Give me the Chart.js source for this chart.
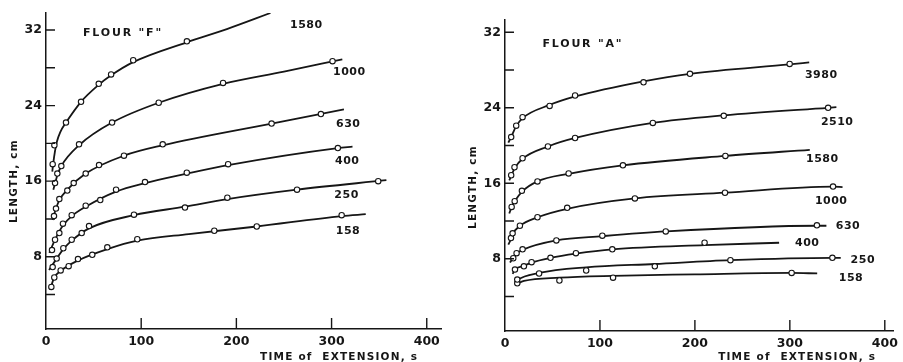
<!DOCTYPE html>
<html>
<head>
<meta charset="utf-8">
<title>Flour F / Flour A</title>
<script src="https://cdn.jsdelivr.net/npm/chart.js@4.4.1/dist/chart.umd.min.js"></script>
<style>
  html, body { margin: 0; padding: 0; background: #fff; }
  #wrap { position: relative; width: 903px; height: 362px; }
  canvas { position: absolute; top: 0; }
  #chartF { left: 0; }
  #chartA { left: 455px; }
</style>
</head>
<body>
<div id="wrap">
  <canvas id="chartF" width="455" height="362"></canvas>
  <canvas id="chartA" width="448" height="362"></canvas>
</div>
<script>
// axis ticks (both panels)
const xTicks = [0, 100, 200, 300, 400];
const yTicks = [4, 8, 12, 16, 20, 24, 28, 32];

// FLOUR "F" -- [time s, length cm]
const fLabels = ['1580', '1000', '630', '400', '250', '158'];
const fPoints = [
  [[7.0,17.8],[8.8,19.8],[21,22.2],[36.8,24.4],[55.4,26.3],[68.4,27.3],[91.6,28.8],[148,30.8]],
  [[9.5,15.8],[11.9,16.8],[16.1,17.6],[34.7,19.9],[69.4,22.2],[118.4,24.3],[186,26.4],[301,28.7]],
  [[8.4,12.3],[10.5,13.1],[14,14.1],[22.4,15.0],[29.1,15.8],[41.7,16.8],[55.7,17.7],[81.9,18.7],[122.6,19.9],[237,22.1],[288.8,23.1]],
  [[6.3,8.7],[9.5,9.8],[14,10.5],[17.8,11.5],[27,12.4],[41.7,13.4],[57,14.0],[73.6,15.1],[104,15.9],[147.9,16.9],[191.3,17.8],[306.6,19.5]],
  [[7,6.9],[11.2,7.8],[18.2,8.9],[27,9.8],[37.5,10.5],[45.2,11.25],[92.4,12.45],[146,13.2],[190.5,14.25],[263.7,15.1],[349,16.0]],
  [[5.6,4.8],[8.7,5.8],[15.4,6.55],[23.8,7.0],[33.6,7.75],[48.6,8.2],[64.4,9.0],[95.9,9.85],[176.8,10.75],[221.4,11.2],[310.6,12.4]]
];
const fCurves = [
  [[6.6,17.0],[7.5,17.8],[9.5,19.2],[11.5,20.2],[15,21.2],[21,22.2],[36.8,24.4],[55.4,26.2],[68.4,27.2],[91.6,28.6],[148,30.7],[190,32.1],[235.8,33.8]],
  [[7.7,15.1],[11.9,16.6],[16.1,17.6],[34.7,19.8],[69.4,22.2],[118.4,24.3],[186,26.3],[250,27.6],[311.3,28.9]],
  [[7,11.9],[10.5,13.1],[14,14.0],[22.4,15.1],[41.7,16.8],[81.9,18.7],[122.6,19.8],[237,22.1],[313,23.6]],
  [[3.5,8.4],[9.5,9.8],[17.8,11.3],[27,12.3],[41.7,13.3],[73.6,14.9],[104,15.8],[147.9,16.8],[191.3,17.7],[306.6,19.5],[322,19.65]],
  [[3.2,6.6],[11.2,7.8],[18.2,8.8],[27,9.7],[45.2,11.0],[92.4,12.4],[146,13.3],[190.5,14.1],[263.7,15.1],[357.6,16.1]],
  [[4.2,4.5],[8.7,5.8],[15.4,6.5],[33.6,7.6],[64.4,8.8],[95.9,9.7],[150,10.4],[221.4,11.2],[310.6,12.3],[335.9,12.5]]
];
const fLabelAt = [[256.4,32.5],[301.5,27.5],[304.7,22.05],[303.6,18.1],[302.9,14.57],[304.4,10.7]];

// FLOUR "A" -- [time s, length cm]
const aLabels = ['3980', '2510', '1580', '1000', '630', '400', '250', '158'];
const aPoints = [
  [[6.5,20.9],[11.8,22.1],[18.5,23.0],[47,24.2],[73.8,25.3],[145.9,26.7],[194.8,27.6],[299.8,28.65]],
  [[6.5,16.85],[10,17.7],[18.5,18.65],[45.2,19.9],[73.8,20.8],[155.7,22.4],[230.4,23.15],[340.3,24.0]],
  [[7,13.5],[10.2,14.1],[17.8,15.2],[34.2,16.2],[67,17.05],[124.2,17.9],[232.1,18.9]],
  [[6.3,10.2],[8,10.7],[15.7,11.5],[34.2,12.4],[65.5,13.4],[136.8,14.4],[231.7,15.0],[345.5,15.65]],
  [[8.7,8.06],[12.2,8.6],[18.5,9.0],[54.1,9.95],[102.5,10.45],[169.3,10.9],[328.5,11.55]],
  [[10.5,6.86],[19.9,7.2],[28,7.64],[47.9,8.1],[74.7,8.6],[113,9.0],[210.2,9.7]],
  [[12.9,5.8],[35.9,6.44],[85.5,6.76],[157.8,7.2],[237.4,7.85],[344.8,8.1]],
  [[12.9,5.4],[57.3,5.7],[113.8,6.0],[301.9,6.5]]
];
const aCurves = [
  [[3.5,20.3],[7,21.0],[11.5,22.0],[18.5,22.9],[47.1,24.3],[74,25.2],[145.9,26.8],[194.8,27.6],[299.8,28.6],[320.4,28.8]],
  [[4.5,16.3],[7,16.9],[10.2,17.6],[18.5,18.6],[45.3,19.9],[74,20.8],[155.7,22.4],[230.4,23.2],[340.3,24.0],[349,24.06]],
  [[4.5,12.8],[7,13.5],[10.2,14.1],[17.8,15.1],[34.2,16.2],[67,17.0],[124,17.9],[232.1,18.9],[321,19.55]],
  [[3.5,9.5],[6.3,10.1],[8,10.6],[15.7,11.5],[34.2,12.4],[65.4,13.3],[136.8,14.4],[231.7,15.0],[345.5,15.65],[355.5,15.6]],
  [[5.2,7.6],[8.7,8.1],[12.2,8.55],[18.5,8.95],[54.1,9.95],[102.6,10.4],[169.3,10.9],[328.8,11.5],[338.5,11.5]],
  [[8,6.4],[10.5,6.85],[19.9,7.25],[28,7.6],[47.9,8.1],[74.7,8.55],[113,9.0],[210.2,9.45],[288.7,9.7]],
  [[10.5,5.5],[12.9,5.75],[35.9,6.5],[85.5,7.1],[157.8,7.45],[237.4,7.85],[344.8,8.1],[353.6,8.1]],
  [[11.5,5.3],[20,5.65],[57.3,6.0],[113.8,6.2],[200,6.35],[301.9,6.5],[328.8,6.45]]
];
const aLabelAt = [[315.9,27.47],[332.7,22.47],[317,18.6],[326.4,14.1],[348.4,11.5],[305.4,9.67],[364,7.87],[351.5,6.0]];

const ink = '#161616';
const FONT = '"DejaVu Sans", "Liberation Sans", sans-serif';
const xy = arr => arr.map(([x, y]) => ({ x, y }));

// inward tick marks + lettering drawn on top of the plot
const decor = {
  id: 'decor',
  afterDraw(chart, args, o) {
    const { ctx, chartArea: a, scales: { x, y } } = chart;
    ctx.save();
    ctx.strokeStyle = ink;
    ctx.lineWidth = 1.4;
    ctx.beginPath();
    xTicks.slice(1).forEach(v => {
      const px = x.getPixelForValue(v);
      ctx.moveTo(px, a.bottom); ctx.lineTo(px, a.bottom - 11);
    });
    yTicks.forEach(v => {
      const py = y.getPixelForValue(v);
      ctx.moveTo(a.left, py); ctx.lineTo(a.left + 9, py);
    });
    ctx.stroke();

    ctx.fillStyle = ink;
    ctx.textBaseline = 'middle';
    ctx.textAlign = 'left';
    ctx.font = 'bold 11px ' + FONT;
    ctx.letterSpacing = '0.5px';
    o.labels.forEach((t, i) => {
      ctx.fillText(t, x.getPixelForValue(o.labelAt[i][0]), y.getPixelForValue(o.labelAt[i][1]));
    });
    ctx.letterSpacing = '1.8px';
    ctx.fillText(o.title, x.getPixelForValue(o.titleAt[0]), y.getPixelForValue(o.titleAt[1]));

    ctx.font = 'bold 10.5px ' + FONT;
    ctx.letterSpacing = '1.2px';
    ctx.textAlign = 'right';
    ctx.fillText('TIME of  EXTENSION, s', x.getPixelForValue(391), chart.height - 5);

    ctx.translate(o.yTitleX, y.getPixelForValue(o.yTitleMid));
    ctx.rotate(-Math.PI / 2);
    ctx.textAlign = 'center';
    ctx.fillText('LENGTH, cm', 0, 0);
    ctx.restore();
  }
};

function buildChart(id, p) {
  const datasets = [];
  p.curves.forEach(c => datasets.push({
    data: xy(c), borderColor: ink, borderWidth: 1.8, pointRadius: 0,
    cubicInterpolationMode: 'monotone', fill: false, order: 2
  }));
  p.points.forEach(c => datasets.push({
    data: xy(c), showLine: false, pointRadius: 2.7, pointBorderWidth: 1.1,
    pointBackgroundColor: '#fff', pointBorderColor: ink, order: 1
  }));

  return new Chart(document.getElementById(id), {
    type: 'line',
    data: { datasets },
    plugins: [decor],
    options: {
      responsive: false,
      animation: false,
      events: [],
      layout: { padding: { top: p.padTop, right: p.padRight, left: 0, bottom: 0 } },
      plugins: {
        legend: { display: false },
        tooltip: { enabled: false },
        decor: {
          labels: p.labels, labelAt: p.labelAt, title: p.title, titleAt: p.titleAt,
          yTitleX: p.yTitleX, yTitleMid: p.yTitleMid
        }
      },
      scales: {
        x: {
          type: 'linear', min: 0, max: p.xMax,
          afterFit: s => { s.height = p.xHeight; },
          afterBuildTicks: s => { s.ticks = xTicks.map(v => ({ value: v })); },
          grid: { display: false, drawTicks: false },
          border: { display: true, color: ink, width: 1.5 },
          ticks: { color: ink, padding: 5, maxRotation: 0, font: { family: FONT, size: 12.5, weight: 'bold' } }
        },
        y: {
          type: 'linear', min: p.yMin, max: p.yMax,
          afterFit: s => { s.width = p.yWidth; },
          afterBuildTicks: s => { s.ticks = yTicks.map(v => ({ value: v })); },
          grid: { display: false, drawTicks: false },
          border: { display: true, color: ink, width: 1.5 },
          ticks: {
            color: ink, padding: 4, font: { family: FONT, size: 12.5, weight: 'bold' },
            callback: v => (v % 8 === 0 ? v : '')
          }
        }
      }
    }
  });
}

buildChart('chartF', {
  labels: fLabels, points: fPoints, curves: fCurves, labelAt: fLabelAt,
  title: 'FLOUR "F"', titleAt: [38.9, 31.7],
  xMax: 415.7, yMin: 0.35, yMax: 33.8,
  yWidth: 46, xHeight: 33, padTop: 13, padRight: 13.3,
  yTitleX: 14, yTitleMid: 16.0
});

buildChart('chartA', {
  labels: aLabels, points: aPoints, curves: aCurves, labelAt: aLabelAt,
  title: 'FLOUR "A"', titleAt: [39.5, 30.7],
  xMax: 409.4, yMin: 0.35, yMax: 33.3,
  yWidth: 50, xHeight: 31, padTop: 20, padRight: 7,
  yTitleX: 18, yTitleMid: 15.6
});
</script>
</body>
</html>
